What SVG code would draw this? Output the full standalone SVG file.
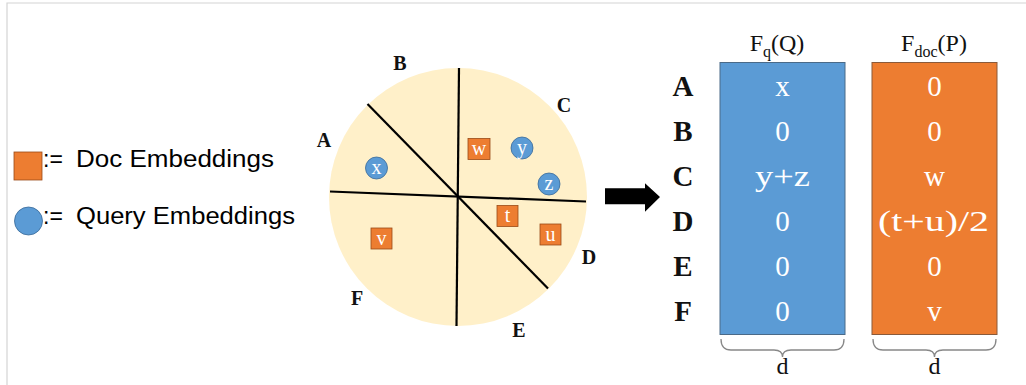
<svg xmlns="http://www.w3.org/2000/svg" width="1026" height="385" viewBox="0 0 1026 385">
<style>
.lbl{font-family:"Liberation Serif","Times New Roman",serif;font-weight:bold;fill:#111;text-anchor:middle}
.mk{font-family:"Liberation Serif","Times New Roman",serif;fill:#fff;text-anchor:middle;font-size:20px}
.val{font-family:"Liberation Serif","Times New Roman",serif;fill:#fff;text-anchor:middle;font-size:29px}
.hdr{font-family:"Liberation Serif","Times New Roman",serif;fill:#111;text-anchor:middle;font-size:24px}
.leg{font-family:"Liberation Sans",Arial,sans-serif;fill:#000;font-size:23px}
.sq{fill:#ED7D31;stroke:#9a4a17;stroke-width:0.8}
.qc{fill:#5B9BD5;stroke:#3a6a98;stroke-width:0.8}
.cut{stroke:#000;stroke-width:2.2;fill:none}
.brace{fill:none;stroke:#888;stroke-width:1.3}
</style>
<rect x="0" y="0" width="1026" height="385" fill="#fff"/>
<path d="M7,385 V3 H1026" fill="none" stroke="#d4d4d4" stroke-width="1.2"/>

<g id="legend">
  <rect class="sq" x="14" y="152" width="28" height="28"/>
  <text class="leg" x="43" y="167" font-size="20">:=</text>
  <text class="leg" x="76" y="167" textLength="198" lengthAdjust="spacingAndGlyphs">Doc Embeddings</text>
  <circle class="qc" cx="28.5" cy="221" r="14"/>
  <text class="leg" x="43" y="224" font-size="20">:=</text>
  <text class="leg" x="76" y="224" textLength="219" lengthAdjust="spacingAndGlyphs">Query Embeddings</text>
</g>

<g id="space">
  <circle cx="458" cy="197" r="129" fill="#FFF0C9"/>
  <line class="cut" x1="459" y1="68" x2="456.5" y2="326"/>
  <line class="cut" x1="330" y1="191.5" x2="586" y2="201.5"/>
  <line class="cut" x1="367.5" y1="104" x2="548" y2="288.5"/>
  <text class="lbl" x="400" y="70" font-size="20">B</text>
  <text class="lbl" x="564" y="112" font-size="20">C</text>
  <text class="lbl" x="324" y="147" font-size="20">A</text>
  <text class="lbl" x="589" y="264" font-size="20">D</text>
  <text class="lbl" x="519" y="337" font-size="20">E</text>
  <text class="lbl" x="357" y="305" font-size="20">F</text>
</g>

<g id="q-x"><circle class="qc" cx="376.5" cy="168" r="11"/><text class="mk" x="376.5" y="173.5">x</text></g>
<g id="q-y"><circle class="qc" cx="522" cy="148" r="11"/><text class="mk" x="522" y="153.5">y</text></g>
<g id="q-z"><circle class="qc" cx="549" cy="184" r="11"/><text class="mk" x="549" y="189.5">z</text></g>
<g id="d-w"><rect class="sq" x="468" y="138.5" width="22" height="21"/><text class="mk" x="479" y="155">w</text></g>
<g id="d-t"><rect class="sq" x="497" y="205.5" width="21" height="21"/><text class="mk" x="507.5" y="222">t</text></g>
<g id="d-u"><rect class="sq" x="540" y="224" width="21" height="21"/><text class="mk" x="550.5" y="240.5">u</text></g>
<g id="d-v"><rect class="sq" x="371" y="228" width="21" height="21"/><text class="mk" x="381.5" y="244.5">v</text></g>

<g id="connectors">
  <path d="M605,188.3 H645 V183.3 L660,197 L645,211.7 V204.3 H605 Z" fill="#000"/>
</g>

<g id="row-labels">
  <text class="lbl" x="683" y="96" font-size="29">A</text>
  <text class="lbl" x="683" y="141" font-size="29">B</text>
  <text class="lbl" x="683" y="186" font-size="29">C</text>
  <text class="lbl" x="683" y="231" font-size="29">D</text>
  <text class="lbl" x="683" y="276" font-size="29">E</text>
  <text class="lbl" x="683" y="321" font-size="29">F</text>
</g>

<g id="fq">
  <text class="hdr" x="777" y="51">F<tspan font-size="16" dy="6">q</tspan><tspan dy="-6">(Q)</tspan></text>
  <rect x="720" y="62.5" width="125" height="272" fill="#5B9BD5" stroke="#4a6a88" stroke-width="1"/>
  <text class="val" x="782.5" y="96">x</text>
  <text class="val" x="782.5" y="141">0</text>
  <text class="val" x="782.5" y="186" textLength="55" lengthAdjust="spacingAndGlyphs">y+z</text>
  <text class="val" x="782.5" y="231">0</text>
  <text class="val" x="782.5" y="276">0</text>
  <text class="val" x="782.5" y="321">0</text>
  <path class="brace" d="M721,339 Q721,350 731,350 L774,350 Q782.5,350 782.5,357 Q782.5,350 791,350 L834,350 Q844,350 844,339"/>
  <text class="hdr" x="782.5" y="374" font-size="19">d</text>
</g>

<g id="fdoc">
  <text class="hdr" x="934" y="51">F<tspan font-size="16" dy="6">doc</tspan><tspan dy="-6">(P)</tspan></text>
  <rect x="872" y="62.5" width="125" height="272" fill="#ED7D31" stroke="#8a5a3a" stroke-width="1"/>
  <text class="val" x="934.5" y="96">0</text>
  <text class="val" x="934.5" y="141">0</text>
  <text class="val" x="934.5" y="186">w</text>
  <text class="val" x="933.5" y="231" textLength="111" lengthAdjust="spacingAndGlyphs">(t+u)/2</text>
  <text class="val" x="934.5" y="276">0</text>
  <text class="val" x="934.5" y="321">v</text>
  <path class="brace" d="M873,339 Q873,350 883,350 L926,350 Q934.5,350 934.5,357 Q934.5,350 943,350 L986,350 Q996,350 996,339"/>
  <text class="hdr" x="934.5" y="374" font-size="19">d</text>
</g>
</svg>
